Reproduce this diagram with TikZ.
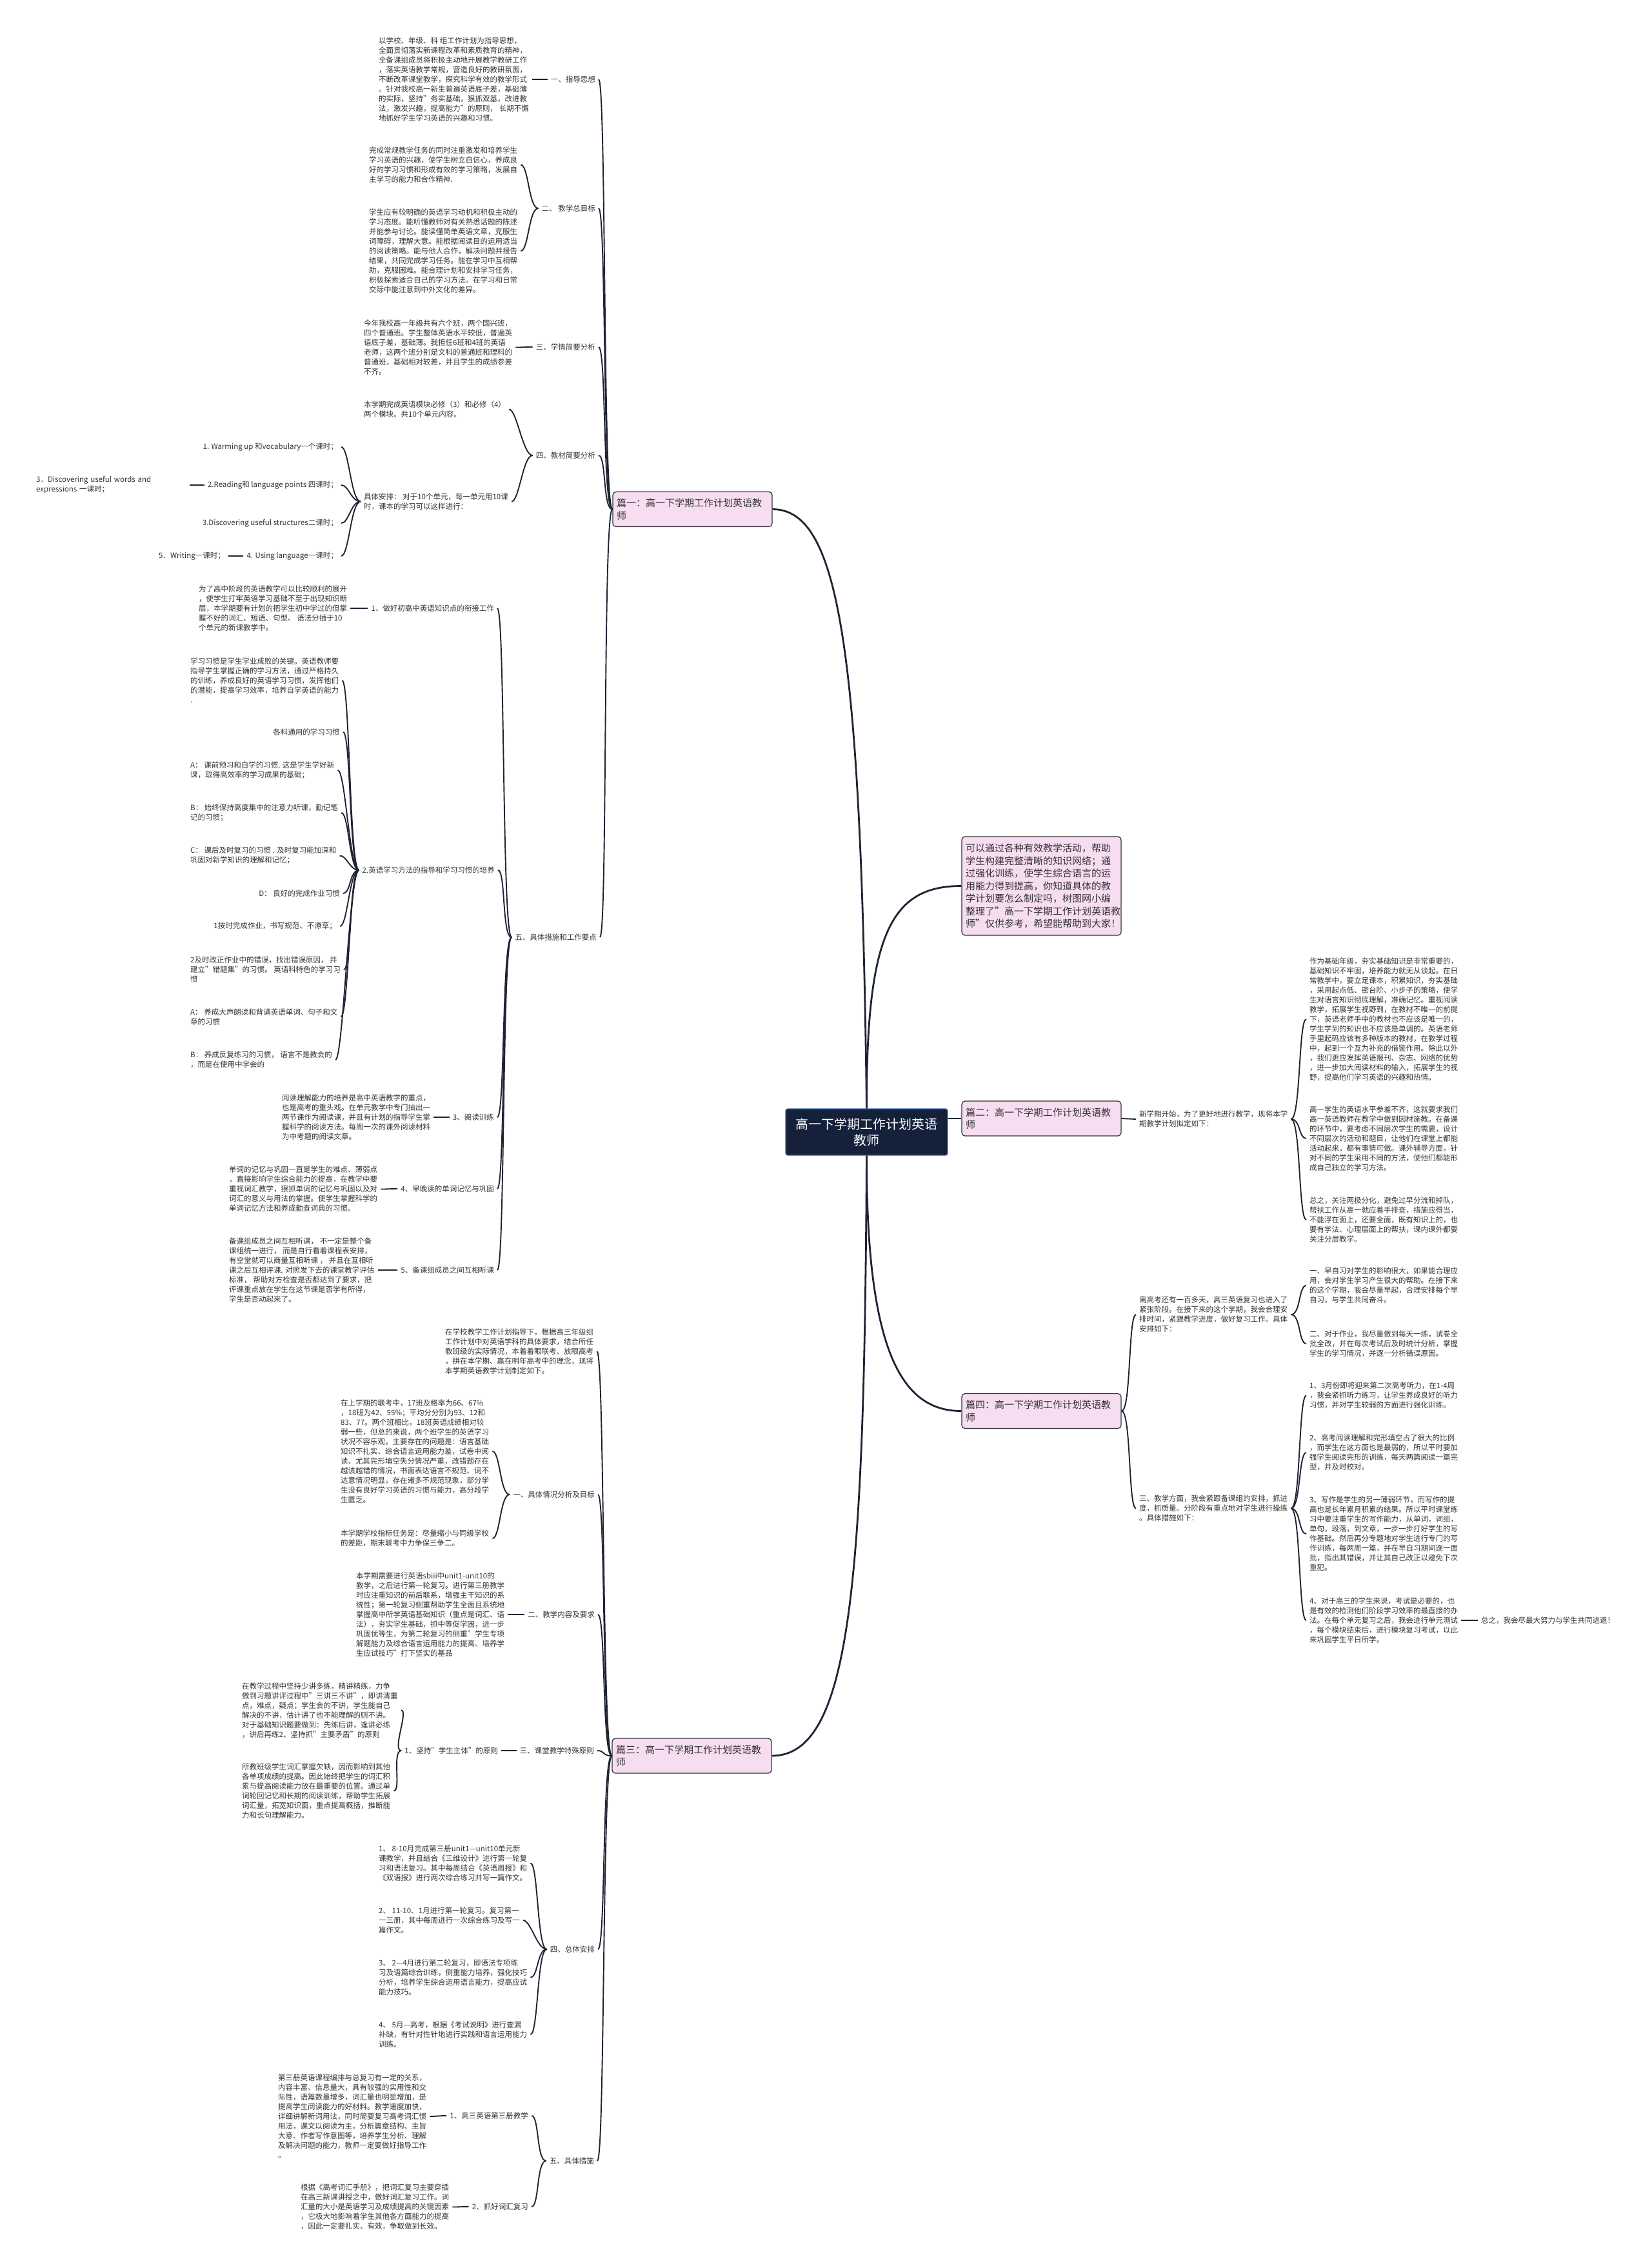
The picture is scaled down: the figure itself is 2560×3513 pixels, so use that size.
\documentclass[tikz,border=0pt]{standalone}
\usepackage{fontspec}
\setmainfont{Noto Sans CJK SC}
\usetikzlibrary{calc}
\definecolor{lnc}{HTML}{1E2433}
\definecolor{txc}{HTML}{333333}
\definecolor{pkc}{HTML}{F6DDF1}
\definecolor{nvc}{HTML}{15213A}
\definecolor{nbc}{HTML}{3B6FB6}
\newcommand\fsA{\fontsize{11.5pt}{15pt}\selectfont}
\newcommand\fsB{\fontsize{15pt}{19.5pt}\selectfont}
\newcommand\fsC{\fontsize{20pt}{25pt}\selectfont}
\newcommand\connL[2]{\draw[subln] (#1) .. controls ($(#1)+(-15,0)$) and ($(#2)+(12,0)$) .. (#2);}
\newcommand\connR[2]{\draw[subln] (#1) .. controls ($(#1)+(15,0)$) and ($(#2)+(-12,0)$) .. (#2);}
\begin{document}
\begin{tikzpicture}[x=1pt,y=-1pt,
  txtnode/.style={font=\fsA, text=txc, align=left, inner xsep=5pt, inner ysep=2pt},
  subln/.style={draw=lnc, line width=1.9pt},
  mainln/.style={draw=lnc, line width=2.8pt},
  pian/.style={fill=pkc, draw=black!80, line width=1.3pt, rounded corners=5pt, font=\fsB, text=txc, align=left, text width=235pt, inner xsep=6pt, inner ysep=0pt, minimum height=54pt},
  cnode/.style={fill=nvc, draw=nbc, line width=1.2pt, rounded corners=3pt, text=white, font=\fsC, align=center, minimum width=251pt, minimum height=72pt, inner sep=0pt}]
\fill[white] (0,0) rectangle (2560,3513);
\path[use as bounding box] (0,0) rectangle (2560,3513);

% ---------- centre and main boxes ----------
\node[cnode] (c) at (1343.5,1755) {高一下学期工作计划英语\\教师};
\node[pian, minimum height=153pt] (intro) at (1614.5,1373.5) {可以通过各种有效教学活动，帮助\\学生构建完整清晰的知识网络；通\\过强化训练，使学生综合语言的运\\用能力得到提高，你知道具体的教\\学计划要怎么制定吗，树图网小编\\整理了"高一下学期工作计划英语教\\师"仅供参考，希望能帮助到大家！};
\node[pian] (p1) at (1073.5,789.5) {篇一：高一下学期工作计划英语教\\师};
\node[pian] (p2) at (1614.5,1734) {篇二：高一下学期工作计划英语教\\师};
\node[pian] (p3) at (1072.5,2722) {篇三：高一下学期工作计划英语教\\师};
\node[pian] (p4) at (1614.5,2187.5) {篇四：高一下学期工作计划英语教\\师};

\draw[mainln] (c.north) .. controls (1335,1000) and (1300,789.5) .. (p1.east);
\draw[mainln] (c.north) .. controls (1343,1450) and (1380,1373.5) .. (intro.west);
\draw[mainln] (c.east |- p2.west) -- (p2.west);
\draw[mainln] (c.south) .. controls (1343,2100) and (1400,2187.5) .. (p4.west);
\draw[mainln] (c.south) .. controls (1340,2450) and (1320,2722) .. (p3.east);

% ---------- 篇一 ----------
\node[txtnode, anchor=east] (L11) at (928,123) {一、指导思想};
\node[txtnode, anchor=east] (L12) at (928,323) {二、 教学总目标};
\node[txtnode, anchor=east] (L13) at (928,538) {三、学情简要分析};
\node[txtnode, anchor=east] (L14) at (928,706) {四、教材简要分析};
\node[txtnode, anchor=east] (L15) at (930,1453) {五、具体措施和工作要点};
\foreach \n in {L11,L12,L13,L14,L15} {\connL{p1.west}{\n.east}}

\node[txtnode, anchor=west] (T11) at (582,123) {以学校、年级、科 组工作计划为指导思想，\\全面贯彻落实新课程改革和素质教育的精神，\\全备课组成员将积极主动地开展教学教研工作\\，落实英语教学常规，营造良好的教研氛围，\\不断改革课堂教学，探究科学有效的教学形式\\。针对我校高一新生普遍英语底子差，基础薄\\的实际，坚持"务实基础，狠抓双基，改进教\\法，激发兴趣，提高能力"的原则， 长期不懈\\地抓好学生学习英语的兴趣和习惯。};
\connL{L11.west}{T11.east}

\node[txtnode, anchor=west] (T12a) at (567,255.5) {完成常规教学任务的同时注重激发和培养学生\\学习英语的兴趣，使学生树立自信心，养成良\\好的学习习惯和形成有效的学习策略，发展自\\主学习的能力和合作精神.};
\node[txtnode, anchor=west] (T12b) at (567,389) {学生应有较明确的英语学习动机和积极主动的\\学习态度。能听懂教师对有关熟悉话题的陈述\\并能参与讨论。能读懂简单英语文章，克服生\\词障碍，理解大意。能根据阅读目的运用适当\\的阅读策略。能与他人合作，解决问题并报告\\结果，共同完成学习任务。能在学习中互相帮\\助，克服困难。能合理计划和安排学习任务，\\积极探索适合自己的学习方法。在学习和日常\\交际中能注意到中外文化的差异。};
\connL{L12.west}{T12a.east}
\connL{L12.west}{T12b.east}

\node[txtnode, anchor=west] (T13) at (559,538.5) {今年我校高一年级共有六个班，两个国兴班，\\四个普通班。学生整体英语水平较低，普遍英\\语底子差，基础薄。我担任6班和4班的英语\\老师，这两个班分别是文科的普通班和理科的\\普通班，基础相对较差，并且学生的成绩参差\\不齐。};
\connL{L13.west}{T13.east}

\node[txtnode, anchor=west] (T14a) at (559,634.5) {本学期完成英语模块必修（3）和必修（4）\\两个模块。共10个单元内容。};
\node[txtnode, anchor=west] (T14b) at (559,777.5) {具体安排： 对于10个单元，每一单元用10课\\时，课本的学习可以这样进行：};
\connL{L14.west}{T14a.east}
\connL{L14.west}{T14b.east}

\node[txtnode, anchor=east] (E1) at (529,693) {1. Warming up 和vocabulary一个课时；};
\node[txtnode, anchor=east] (E2) at (529,752) {2.Reading和 language points 四课时；};
\node[txtnode, anchor=east] (E3) at (529,811) {3.Discovering useful structures二课时；};
\node[txtnode, anchor=east] (E4) at (529,862) {4. Using language一课时；};
\foreach \n in {E1,E2,E3,E4} {\connL{T14b.west}{\n.east}}
\node[txtnode, anchor=west, text width=233pt] (E2c) at (51,752) {3．Discovering useful words and\\expressions 一课时；};
\connL{E2.west}{E2c.east}
\node[txtnode, anchor=east] (E4c) at (354,862) {5．Writing一课时；};
\connL{E4.west}{E4c.east}

% 五
\node[txtnode, anchor=east] (F1) at (771,943) {1、做好初高中英语知识点的衔接工作};
\node[txtnode, anchor=east] (F2) at (772,1349) {2.英语学习方法的指导和学习习惯的培养};
\node[txtnode, anchor=east] (F3) at (771,1732) {3、阅读训练};
\node[txtnode, anchor=east] (F4) at (771,1843) {4、早晚读的单词记忆与巩固};
\node[txtnode, anchor=east] (F5) at (771,1969) {5、备课组成员之间互相听课};
\foreach \n in {F1,F2,F3,F4,F5} {\connL{L15.west}{\n.east}}

\node[txtnode, anchor=west] (F1t) at (303,943) {为了高中阶段的英语教学可以比较顺利的展开\\，使学生打牢英语学习基础不至于出现知识断\\层，本学期要有计划的把学生初中学过的但掌\\握不好的词汇、短语、句型、 语法分插于10\\个单元的新课教学中。};
\connL{F1.west}{F1t.east}

\node[txtnode, anchor=west] (F2a) at (290,1055) {学习习惯是学生学业成败的关键。英语教师要\\指导学生掌握正确的学习方法，通过严格持久\\的训练，养成良好的英语学习习惯，发挥他们\\的潜能，提高学习效率，培养自学英语的能力\\.};
\node[txtnode, anchor=east] (F2b) at (532,1135) {各科通用的学习习惯};
\node[txtnode, anchor=west] (F2c) at (290,1194) {A： 课前预习和自学的习惯. 这是学生学好新\\课，取得高效率的学习成果的基础；};
\node[txtnode, anchor=west] (F2d) at (290,1260) {B： 始终保持高度集中的注意力听课，勤记笔\\记的习惯；};
\node[txtnode, anchor=west] (F2e) at (290,1326.5) {C： 课后及时复习的习惯 . 及时复习能加深和\\巩固对新学知识的理解和记忆；};
\node[txtnode, anchor=east] (F2f) at (532,1385) {D： 良好的完成作业习惯};
\node[txtnode, anchor=east] (F2g) at (527,1436) {1按时完成作业，书写规范、不潦草；};
\node[txtnode, anchor=west] (F2h) at (290,1503.5) {2及时改正作业中的错误，找出错误原因， 并\\建立"错题集"的习惯。 英语科特色的学习习\\惯};
\node[txtnode, anchor=west] (F2i) at (290,1576.5) {A： 养成大声朗读和背诵英语单词、句子和文\\章的习惯};
\node[txtnode, anchor=west] (F2j) at (290,1643) {B： 养成反复练习的习惯， 语言不是教会的\\，而是在使用中学会的};
\foreach \n in {F2a,F2b,F2c,F2d,F2e,F2f,F2g,F2h,F2i,F2j} {\connL{F2.west}{\n.east}}

\node[txtnode, anchor=west] (F3t) at (432,1732) {阅读理解能力的培养是高中英语教学的重点，\\也是高考的重头戏。在单元教学中专门抽出一\\两节课作为阅读课，并且有计划的指导学生掌\\握科学的阅读方法。每周一次的课外阅读材料\\为中考题的阅读文章。};
\connL{F3.west}{F3t.east}
\node[txtnode, anchor=west] (F4t) at (350,1843.5) {单词的记忆与巩固一直是学生的难点、薄弱点\\，直接影响学生综合能力的提高，在教学中要\\重视词汇教学，狠抓单词的记忆与巩固以及对\\词汇的意义与用法的掌握。使学生掌握科学的\\单词记忆方法和养成勤查词典的习惯。};
\connL{F4.west}{F4t.east}
\node[txtnode, anchor=west] (F5t) at (350,1969) {备课组成员之间互相听课， 不一定是整个备\\课组统一进行， 而是自行看着课程表安排，\\有空堂就可以商量互相听课 ， 并且在互相听\\课之后互相评课. 对照发下去的课堂教学评估\\标准， 帮助对方检查是否都达到了要求，把\\评课重点放在学生在这节课是否学有所得，\\学生是否动起来了。};
\connL{F5.west}{F5t.east}

% ---------- 篇二 ----------
\node[txtnode, anchor=west] (P2T) at (1761,1735) {新学期开始，为了更好地进行教学，现将本学\\期教学计划拟定如下：};
\draw[subln] (p2.east) -- (P2T.west);
\node[txtnode, anchor=west] (P2a) at (2025,1580) {作为基础年级，夯实基础知识是非常重要的，\\基础知识不牢固，培养能力就无从谈起。在日\\常教学中，要立足课本，积累知识，夯实基础\\，采用起点低、密台阶、小步子的策略，使学\\生对语言知识彻底理解，准确记忆。重视阅读\\教学，拓展学生视野到，在教材不唯一的前提\\下，英语老师手中的教材也不应该是唯一的，\\学生学到的知识也不应该是单调的。英语老师\\手里起码应该有多种版本的教材，在教学过程\\中，起到一个互为补充的借鉴作用。除此以外\\，我们更应发挥英语报刊、杂志、网络的优势\\，进一步加大阅读材料的输入，拓展学生的视\\野，提高他们学习英语的兴趣和热情。};
\node[txtnode, anchor=west] (P2b) at (2025,1765) {高一学生的英语水平参差不齐，这就要求我们\\高一英语教师在教学中做到因材施教。在备课\\的环节中，要考虑不同层次学生的需要，设计\\不同层次的活动和题目，让他们在课堂上都能\\活动起来，都有事情可做。课外辅导方面，针\\对不同的学生采用不同的方法，使他们都能形\\成自己独立的学习方法。};
\node[txtnode, anchor=west] (P2c) at (2025,1891) {总之，关注两极分化，避免过早分流和掉队，\\帮扶工作从高一就应着手排查，措施应得当，\\不能浮在面上，还要全面，既有知识上的，也\\要有学法、心理层面上的帮扶，课内课外都要\\关注分层教学。};
\foreach \n in {P2a,P2b,P2c} {\connR{P2T.east}{\n.west}}

% ---------- 篇四 ----------
\node[txtnode, anchor=west] (P4T1) at (1761,2038) {离高考还有一百多天，高三英语复习也进入了\\紧张阶段。在接下来的这个学期，我会合理安\\排时间，紧跟教学进度，做好复习工作。具体\\安排如下：};
\node[txtnode, anchor=west] (P4T2) at (1761,2338.5) {三、教学方面，我会紧跟备课组的安排，抓进\\度，抓质量。分阶段有重点地对学生进行操练\\。具体措施如下：};
\connR{p4.east}{P4T1.west}
\connR{p4.east}{P4T2.west}
\node[txtnode, anchor=west] (P4a) at (2025,1993) {一、早自习对学生的影响很大，如果能合理应\\用，会对学生学习产生很大的帮助。在接下来\\的这个学期，我会尽量早起，合理安排每个早\\自习，与学生共同奋斗。};
\node[txtnode, anchor=west] (P4b) at (2025,2083) {二、对于作业，我尽量做到每天一练，试卷全\\批全改，并在每次考试后及时统计分析，掌握\\学生的学习情况，并逐一分析错误原因。};
\connR{P4T1.east}{P4a.west}
\connR{P4T1.east}{P4b.west}
\node[txtnode, anchor=west] (P4c) at (2025,2163.5) {1、3月份即将迎来第二次高考听力，在1-4周\\，我会紧抓听力练习，让学生养成良好的听力\\习惯，并对学生较弱的方面进行强化训练。};
\node[txtnode, anchor=west] (P4d) at (2025,2252) {2、高考阅读理解和完形填空占了很大的比例\\，而学生在这方面也是最弱的，所以平时要加\\强学生阅读完形的训练，每天两篇阅读一篇完\\型，并及时校对。};
\node[txtnode, anchor=west] (P4e) at (2025,2378) {3、写作是学生的另一薄弱环节，而写作的提\\高也是长年累月积累的结果。所以平时课堂练\\习中要注重学生的写作能力，从单词，词组，\\单句，段落，到文章，一步一步打好学生的写\\作基础。然后再分专题地对学生进行专门的写\\作训练，每两周一篇，并在早自习期间逐一面\\批，指出其错误，并让其自己改正以避免下次\\重犯。};
\node[txtnode, anchor=west] (P4f) at (2025,2512) {4、对于高三的学生来说，考试是必要的，也\\是有效的检测他们阶段学习效率的最直接的办\\法。在每个单元复习之后，我会进行单元测试\\，每个模块结束后，进行模块复习考试，以此\\来巩固学生平日所学。};
\foreach \n in {P4c,P4d,P4e,P4f} {\connR{P4T2.east}{\n.west}}
\node[txtnode, anchor=west] (P4g) at (2291,2512) {总之，我会尽最大努力与学生共同进退！};
\draw[subln] (P4f.east) -- (P4g.west);

% ---------- 篇三 ----------
\node[txtnode, anchor=west] (P3i) at (685,2095) {在学校教学工作计划指导下，根据高三年级组\\工作计划中对英语学科的具体要求，结合所任\\教班级的实际情况，本着着眼联考、放眼高考\\，拼在本学期、赢在明年高考中的理念，现将\\本学期英语教学计划制定如下。};
\node[txtnode, anchor=east] (L31) at (927,2317) {一、具体情况分析及目标};
\node[txtnode, anchor=east] (L32) at (927,2503) {二、教学内容及要求};
\node[txtnode, anchor=east] (L33) at (926,2714) {三、课堂教学特殊原则};
\node[txtnode, anchor=east] (L34) at (927,3022) {四、总体安排};
\node[txtnode, anchor=east] (L35) at (926,3350) {五、具体措施};
\foreach \n in {P3i,L31,L32,L33,L34,L35} {\connL{p3.west}{\n.east}}

\node[txtnode, anchor=west] (L31a) at (523,2250) {在上学期的联考中，17班及格率为66、67\%\\，18班为42、55\%；平均分分别为93、12和\\83、77。两个班相比，18班英语成绩相对较\\弱一些，但总的来说，两个班学生的英语学习\\状况不容乐观，主要存在的问题是：语言基础\\知识不扎实、综合语言运用能力差，试卷中阅\\读、尤其完形填空失分情况严重，改错题存在\\越该越错的情况，书面表达语言不规范、词不\\达意情况明显，存在诸多不规范现象，部分学\\生没有良好学习英语的习惯与能力，高分段学\\生匮乏。};
\node[txtnode, anchor=west] (L31b) at (523,2385) {本学期学校指标任务是：尽量缩小与同级学校\\的差距，期末联考中力争保三争二。};
\connL{L31.west}{L31a.east}
\connL{L31.west}{L31b.east}

\node[txtnode, anchor=west] (L32t) at (547,2503) {本学期需要进行英语sbiii中unit1-unit10的\\教学，之后进行第一轮复习。进行第三册教学\\时应注重知识的前后联系，增强主干知识的系\\统性；第一轮复习侧重帮助学生全面且系统地\\掌握高中所学英语基础知识（重点是词汇、语\\法），夯实学生基础，抓中等促学困，进一步\\巩固优等生，为第二轮复习的侧重"学生专项\\解题能力及综合语言运用能力的提高、培养学\\生应试技巧"打下坚实的基品};
\connL{L32.west}{L32t.east}

\node[txtnode, anchor=east] (L33a) at (777,2714) {1、坚持"学生主体"的原则};
\connL{L33.west}{L33a.east}
\node[txtnode, anchor=west] (L33a1) at (370,2651.5) {在教学过程中坚持少讲多练，精讲精练，力争\\做到习题讲评过程中"三讲三不讲"，即讲清重\\点，难点，疑点；学生会的不讲，学生能自己\\解决的不讲，估计讲了也不能理解的则不讲。\\对于基础知识题要做到：先练后讲，逢讲必练\\，讲后再练2、坚持抓"主要矛盾"的原则};
\node[txtnode, anchor=west] (L33a2) at (370,2776.5) {所教班级学生词汇掌握欠缺，因而影响到其他\\各单项成绩的提高。因此始终把学生的词汇积\\累与提高阅读能力放在最重要的位置。通过单\\词轮回记忆和长期的阅读训练，帮助学生拓展\\词汇量，拓宽知识面，重点提高概括，推断能\\力和长句理解能力。};
\connL{L33a.west}{L33a1.east}
\connL{L33a.west}{L33a2.east}

\node[txtnode, anchor=west] (L34a) at (582,2888.5) {1、 8-10月完成第三册unit1—unit10单元新\\课教学，并且结合《三维设计》进行第一轮复\\习和语法复习。其中每周结合《英语周报》和\\《双语报》进行两次综合练习并写一篇作文。};
\node[txtnode, anchor=west] (L34b) at (582,2977) {2、 11-10、1月进行第一轮复习。复习第一\\一三册，其中每周进行一次综合练习及写一\\篇作文。};
\node[txtnode, anchor=west] (L34c) at (582,3065.5) {3、 2—4月进行第二轮复习，即语法专项练\\习及语篇综合训练，侧重能力培养，强化技巧\\分析，培养学生综合运用语言能力，提高应试\\能力技巧。};
\node[txtnode, anchor=west] (L34d) at (582,3154) {4、 5月—高考，根据《考试说明》进行查漏\\补缺，有针对性针地进行实践和语言运用能力\\训练。};
\foreach \n in {L34a,L34b,L34c,L34d} {\connL{L34.west}{\n.east}}

\node[txtnode, anchor=east] (L35a) at (824,3280) {1、高三英语第三册教学};
\node[txtnode, anchor=east] (L35b) at (824,3421) {2、抓好词汇复习};
\connL{L35.west}{L35a.east}
\connL{L35.west}{L35b.east}
\node[txtnode, anchor=west] (L35at) at (426,3281) {第三册英语课程编排与总复习有一定的关系，\\内容丰富、信息量大，具有较强的实用性和交\\际性，语篇数量增多，词汇量也明显增加，是\\提高学生阅读能力的好材料。教学速度加快，\\详细讲解新词用法，同时简要复习高考词汇惯\\用法，课文以阅读为主，分析篇章结构、主旨\\大意、作者写作意图等，培养学生分析、理解\\及解决问题的能力，教师一定要做好指导工作\\。};
\node[txtnode, anchor=west] (L35bt) at (461,3421.5) {根据《高考词汇手册》，把词汇复习主要穿插\\在高三新课讲授之中，做好词汇复习工作。词\\汇量的大小是英语学习及成绩提高的关键因素\\，它极大地影响着学生其他各方面能力的提高\\，因此一定要扎实、有效，争取做到长效。};
\connL{L35a.west}{L35at.east}
\connL{L35b.west}{L35bt.east}
\end{tikzpicture}
\end{document}
